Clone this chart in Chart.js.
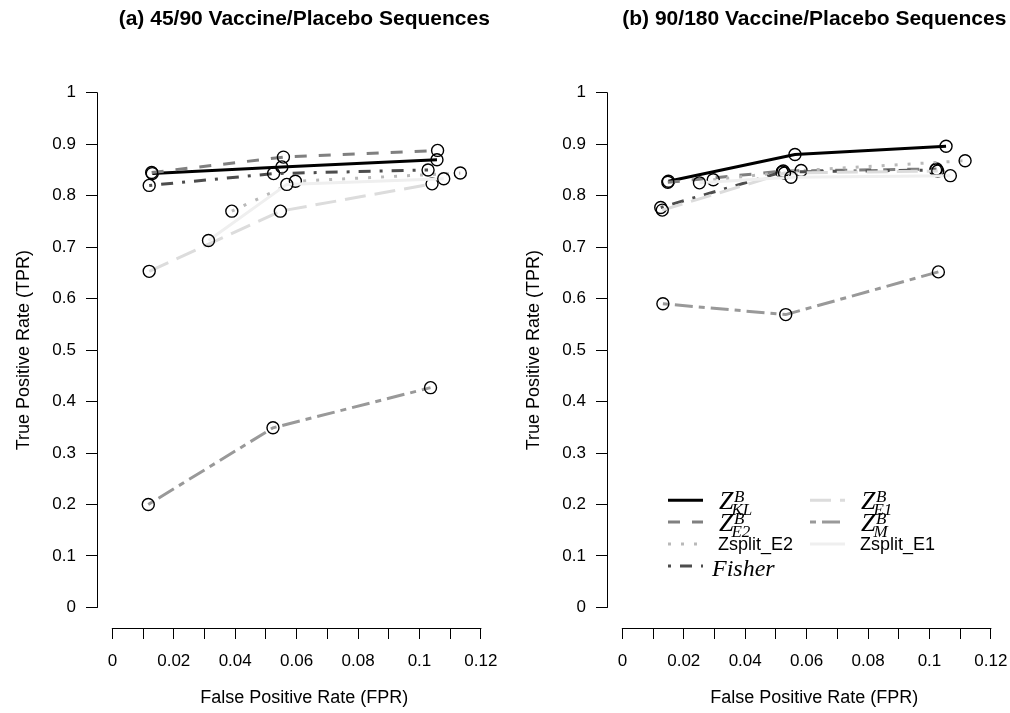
<!DOCTYPE html>
<html>
<head>
<meta charset="utf-8">
<script src="https://cdn.jsdelivr.net/npm/chart.js@4.4.1/dist/chart.umd.min.js"></script>
<style>
  html, body { margin: 0; padding: 0; background: #fff; overflow: hidden; width: 1010px; height: 713px; }
  .panel { position: absolute; top: 0; }
</style>
</head>
<body>
<div class="panel" style="left:0px"><canvas id="chart-a" width="519" height="713"></canvas></div>
<div class="panel" style="left:505px"><canvas id="chart-b" width="524" height="713"></canvas></div>
<script>
// series order: Z_KL, Z_E2, Zsplit_E2, Fisher, Z_E1, Z_M, Zsplit_E1
const seriesLabels = ["Z^B_KL", "Z^B_E2", "Zsplit_E2", "Fisher", "Z^B_E1", "Z^B_M", "Zsplit_E1"];

// (a) 45/90 sequences
const fprA = [
  [0.0130, 0.0552, 0.1057],
  [0.0128, 0.0557, 0.1059],
  [0.0389, 0.0596, 0.1133],
  [0.0120, 0.0525, 0.1028],
  [0.0120, 0.0547, 0.1041],
  [0.0117, 0.0523, 0.1036],
  [0.0313, 0.0568, 0.1079],
];
const tprA = [
  [0.843, 0.856, 0.870],
  [0.845, 0.875, 0.888],
  [0.770, 0.828, 0.844],
  [0.820, 0.843, 0.850],
  [0.653, 0.770, 0.823],
  [0.200, 0.349, 0.427],
  [0.713, 0.822, 0.833],
];

// (b) 90/180 sequences
const fprB = [
  [0.0150, 0.0562, 0.1054],
  [0.0148, 0.0524, 0.1023],
  [0.0296, 0.0582, 0.1116],
  [0.0125, 0.0520, 0.1020],
  [0.0130, 0.0528, 0.1027],
  [0.0132, 0.0532, 0.1029],
  [0.0251, 0.0549, 0.1068],
];
const tprB = [
  [0.828, 0.880, 0.896],
  [0.826, 0.848, 0.852],
  [0.831, 0.849, 0.868],
  [0.777, 0.846, 0.850],
  [0.772, 0.844, 0.848],
  [0.590, 0.569, 0.652],
  [0.825, 0.836, 0.839],
];

const xTicks = [0, 0.01, 0.02, 0.03, 0.04, 0.05, 0.06, 0.07, 0.08, 0.09, 0.1, 0.11, 0.12];
const xTickLabels = ["0", "", "0.02", "", "0.04", "", "0.06", "", "0.08", "", "0.1", "", "0.12"];
const yTicks = [0, 0.1, 0.2, 0.3, 0.4, 0.5, 0.6, 0.7, 0.8, 0.9, 1];
const yTickLabels = ["0", "0.1", "0.2", "0.3", "0.4", "0.5", "0.6", "0.7", "0.8", "0.9", "1"];

// line styles (R lty scaled by lwd)
const lineColors = ["#000000", "#808080", "#b9b9b9", "#4d4d4d", "#dcdcdc", "#999999", "#efefef"];
const lineDashes = [[], [12, 12], [3, 10], [3, 9, 12, 9], [21, 9], [6, 6, 18, 6], []];

// legend subscripts (null => plain text label)
const legendSub = ["KL", "E2", null, null, "E1", "M", null];

Chart.defaults.font.family = "'Liberation Sans', Arial, sans-serif";
Chart.defaults.color = "#000";

function makeDatasets(fpr, tpr) {
  return seriesLabels.map((label, i) => ({
    label,
    data: fpr[i].map((x, j) => ({ x, y: tpr[i][j] })),
    borderColor: lineColors[i],
    borderDash: lineDashes[i],
    borderWidth: 3,
    borderCapStyle: "butt",
    pointRadius: 6,
    pointBorderColor: "#000",
    pointBackgroundColor: "rgba(0,0,0,0)",
    pointBorderWidth: 1.4,
    tension: 0,
    fill: false,
    order: seriesLabels.length - i,
  }));
}

// R-style axis lines: only spanning the tick range
const rAxes = {
  id: "rAxes",
  afterDraw(chart) {
    const { ctx, chartArea: a, scales } = chart;
    const align = (p) => Math.round(p - 0.5) + 0.5;
    ctx.save();
    ctx.strokeStyle = "#000";
    ctx.lineWidth = 1;
    ctx.beginPath();
    const yb = align(a.bottom);
    ctx.moveTo(scales.x.getPixelForValue(xTicks[0]) - 0.5, yb);
    ctx.lineTo(scales.x.getPixelForValue(xTicks[xTicks.length - 1]) + 0.5, yb);
    const xl = align(a.left);
    ctx.moveTo(xl, scales.y.getPixelForValue(yTicks[0]) + 0.5);
    ctx.lineTo(xl, scales.y.getPixelForValue(yTicks[yTicks.length - 1]) - 0.5);
    ctx.stroke();
    ctx.restore();
  },
};

// legend drawn like R's plotmath legend (two columns, no box)
const rLegend = {
  id: "rLegend",
  afterDraw(chart, args, opts) {
    if (!opts.show) return;
    const { ctx, chartArea: a } = chart;
    const colX = [a.left + 61, a.left + 203];
    const rowY0 = a.top + 428;
    const rowStep = 21.9;
    const lineLen = 35;
    ctx.save();
    seriesLabels.forEach((label, i) => {
      const col = i < 4 ? 0 : 1;
      const row = i < 4 ? i : i - 4;
      const x = colX[col];
      const y = rowY0 + row * rowStep;
      // line sample
      ctx.strokeStyle = lineColors[i];
      ctx.lineWidth = 3;
      ctx.lineCap = "butt";
      ctx.setLineDash(lineDashes[i]);
      ctx.beginPath();
      ctx.moveTo(x, y);
      ctx.lineTo(x + lineLen, y);
      ctx.stroke();
      ctx.setLineDash([]);
      ctx.fillStyle = "#000";
      ctx.textAlign = "left";
      const tx = x + lineLen + 16;
      if (legendSub[i]) {
        ctx.textBaseline = "alphabetic";
        ctx.font = "italic 26px 'Liberation Serif', 'DejaVu Serif', serif";
        ctx.fillText("Z", tx, y + 8.5);
        const zw = ctx.measureText("Z").width;
        ctx.font = "italic 17px 'Liberation Serif', 'DejaVu Serif', serif";
        ctx.fillText("B", tx + zw + 0.5, y + 1.5);
        ctx.fillText(legendSub[i], tx + zw - 2, y + 14.5);
      } else if (label === "Fisher") {
        ctx.textBaseline = "alphabetic";
        ctx.font = "italic 24px 'Liberation Serif', 'DejaVu Serif', serif";
        ctx.fillText("Fisher", tx - 7, y + 10);
      } else {
        ctx.textBaseline = "middle";
        ctx.font = "18px 'Liberation Sans', Arial, sans-serif";
        ctx.fillText(label, tx - 1, y + 1);
      }
    });
    ctx.restore();
  },
};

function makeChart(id, title, fpr, tpr, yAxisWidth, yTitlePad, rightPad, showLegend) {
  return new Chart(document.getElementById(id), {
    type: "line",
    data: { datasets: makeDatasets(fpr, tpr) },
    options: {
      responsive: false,
      devicePixelRatio: 1,
      animation: false,
      layout: { padding: { left: 0, right: rightPad, top: 0, bottom: 0 } },
      scales: {
        x: {
          type: "linear",
          min: -0.005,
          max: 0.13,
          afterBuildTicks: (s) => { s.ticks = xTicks.map((v) => ({ value: v })); },
          afterFit: (s) => { s.height = 85; },
          ticks: {
            autoSkip: false,
            maxRotation: 0,
            minRotation: 0,
            padding: 12,
            font: { size: 17 },
            callback: (v, i) => xTickLabels[i],
          },
          grid: { drawOnChartArea: false, drawTicks: true, tickLength: 11, color: "#000", lineWidth: 1 },
          border: { display: false },
          title: {
            display: true,
            text: "False Positive Rate (FPR)",
            font: { size: 18 },
            padding: { top: 0, bottom: 4 },
          },
        },
        y: {
          type: "linear",
          min: -0.04,
          max: 1.04,
          afterBuildTicks: (s) => { s.ticks = yTicks.map((v) => ({ value: v })); },
          afterFit: (s) => { s.width = yAxisWidth; },
          ticks: {
            autoSkip: false,
            padding: 10,
            font: { size: 17 },
            callback: (v, i) => yTickLabels[i],
          },
          grid: { drawOnChartArea: false, drawTicks: true, tickLength: 11, color: "#000", lineWidth: 1 },
          border: { display: false },
          title: {
            display: true,
            text: "True Positive Rate (TPR)",
            font: { size: 18 },
            padding: { top: yTitlePad, bottom: 0 },
          },
        },
      },
      plugins: {
        legend: { display: false },
        tooltip: { enabled: false },
        title: {
          display: true,
          text: title,
          fullSize: false,
          color: "#000",
          font: { size: 21, weight: "bold" },
          padding: { top: 7, bottom: 40 },
        },
        rLegend: { show: showLegend },
      },
    },
    plugins: [rAxes, rLegend],
  });
}

makeChart("chart-a", "(a) 45/90 Vaccine/Placebo Sequences", fprA, tprA, 97, 13, 4, false);
makeChart("chart-b", "(b) 90/180 Vaccine/Placebo Sequences", fprB, tprB, 102, 18, 3, true);
</script>
</body>
</html>
